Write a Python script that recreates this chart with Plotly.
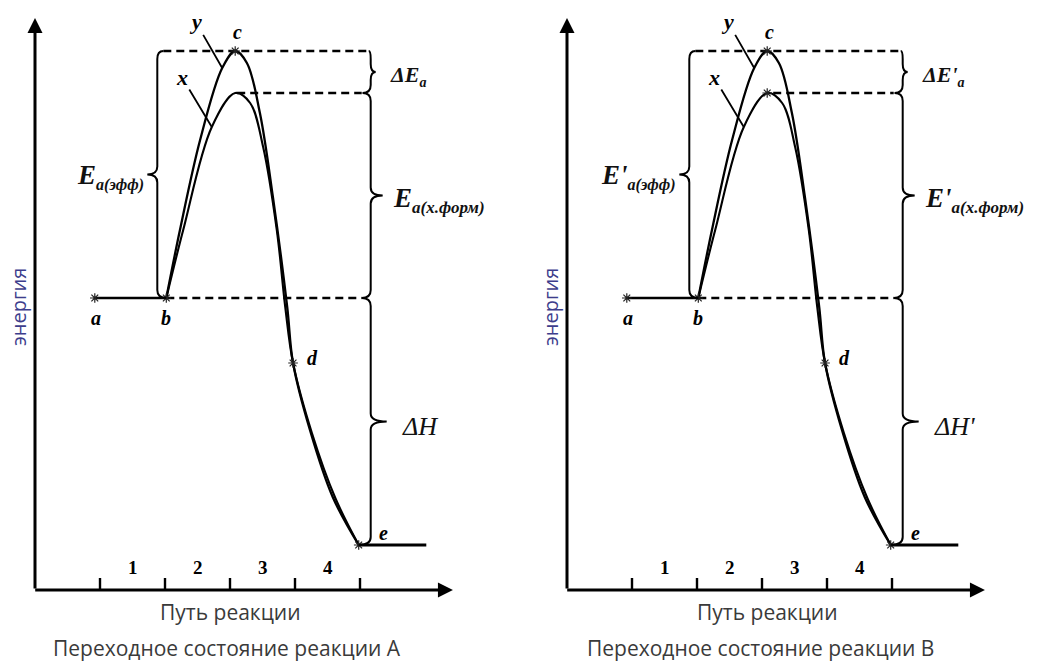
import plotly.graph_objects as go

# ---------------- data ----------------
# reaction-coordinate positions (tick units) of the marked points a..e
pt_names = ["a", "b", "c", "d", "e"]
pt_u = [0.92, 2.02, 3.08, 3.97, 4.98]
# energy levels (arbitrary units, x-axis = 0)
E_react = 58.4      # a, b
E_ts_eff = 107.8    # c (peak of curve y)
E_ts_x = 99.4       # peak of curve x
E_d = 45.4
E_prod = 9.0        # e
pt_E = [E_react, E_react, E_ts_eff, E_d, E_prod]

# curve y (higher barrier)
curve_y_u = [2.02, 2.23, 2.54, 2.88, 3.08, 3.26, 3.46, 3.66, 3.88, 3.97, 4.23, 4.58, 4.98]
curve_y_E = [58.4, 72.0, 90.0, 104.4, 107.8, 105.4, 95.4, 78.6, 56.6, 45.4, 32.0, 18.6, 9.0]
# curve x (lower barrier)
curve_x_u = [2.02, 2.28, 2.72, 3.08, 3.31, 3.51, 3.72, 3.85, 3.97, 4.26, 4.62, 4.98]
curve_x_E = [58.4, 72.0, 92.6, 99.4, 97.4, 88.6, 72.0, 56.6, 45.4, 31.4, 18.4, 9.0]

prod_line_end_u = 6.02
tick_u = [1, 2, 3, 4, 5]
tick_label_u = [1.5, 2.5, 3.5, 4.5]
tick_labels = ["1", "2", "3", "4"]
axis_u_max = 6.43
axis_E_max = 114.4

panel_labels = [
    dict(eff_main="E", eff_sub="a(эфф)", dEa_main="ΔE", dEa_sub="a",
         form_main="E", form_sub="a(х.форм)", dH="ΔH",
         title="Переходное состояние реакции А", xpeak_star=False),
    dict(eff_main="E'", eff_sub="a(эфф)", dEa_main="ΔE'", dEa_sub="a",
         form_main="E'", form_sub="a(х.форм)", dH="ΔH'",
         title="Переходное состояние реакции В", xpeak_star=True),
]
x_axis_title = "Путь реакции"
y_axis_title = "энергия"

# ---------------- layout geometry ----------------
W, H = 1039, 666
x_ranges = [[-0.5385, 7.4538], [-0.7308, 7.2615]]
domains = [[0, 0.5], [0.5, 1]]
y_range = [-15.2, 118.0]
px_u = (W * 0.5) / (x_ranges[0][1] - x_ranges[0][0])
px_E = H / (y_range[1] - y_range[0])

SERIF = "Liberation Serif"
SANS = "Open Sans"

fig = go.Figure()
shapes = []
annotations = []


def brace_path(x0, top, bot, side, tip_px, curl_top_px, curl_bot_px, r_px=8):
    du = 1.0 / px_u
    dE = 1.0 / px_E
    w = side * tip_px * du
    ct = -side * curl_top_px * du
    cb = -side * curl_bot_px * du
    r = min(r_px * dE, (top - bot) / 4.0)
    mid = (top + bot) / 2.0
    return (f"M{x0+ct},{top} Q{x0},{top} {x0},{top-r} L{x0},{mid+r} "
            f"Q{x0},{mid} {x0+w},{mid} Q{x0},{mid} {x0},{mid-r} "
            f"L{x0},{bot+r} Q{x0},{bot} {x0+cb},{bot}")


def sub_label(main, sub, main_size, sub_size):
    return (f"<b><i><span style='font-size:{main_size}px'>{main}</span>"
            f"<sub><span style='font-size:{sub_size}px'>{sub}</span></sub></i></b>")


for i, lab in enumerate(panel_labels):
    xa = "x" if i == 0 else "x2"
    ya = "y" if i == 0 else "y2"
    a_u, b_u, c_u, d_u, e_u = pt_u
    du = 1.0 / px_u

    # curves
    fig.add_trace(go.Scatter(x=curve_y_u, y=curve_y_E, mode="lines",
                             line=dict(color="#000", width=2.3, shape="spline", smoothing=1.0),
                             xaxis=xa, yaxis=ya, hoverinfo="skip", showlegend=False))
    fig.add_trace(go.Scatter(x=curve_x_u, y=curve_x_E, mode="lines",
                             line=dict(color="#000", width=2.1, shape="spline", smoothing=1.0),
                             xaxis=xa, yaxis=ya, hoverinfo="skip", showlegend=False))
    # reactant and product plateaus
    fig.add_trace(go.Scatter(x=[a_u, b_u], y=[E_react, E_react], mode="lines",
                             line=dict(color="#000", width=2.6),
                             xaxis=xa, yaxis=ya, hoverinfo="skip", showlegend=False))
    fig.add_trace(go.Scatter(x=[e_u, prod_line_end_u], y=[E_prod, E_prod], mode="lines",
                             line=dict(color="#000", width=3),
                             xaxis=xa, yaxis=ya, hoverinfo="skip", showlegend=False))

    # brace positions
    left_x0 = b_u - 9 * du
    right_x0 = e_u + 12 * du

    # dashed levels
    dash_levels = [E_ts_eff, E_ts_x, E_react]
    dash_start = [left_x0 + 6 * du, c_u + (2 + 4 * i) * du, b_u]
    dash_end = [right_x0 - 2 * du, right_x0 - 9 * du, right_x0 - 9 * du]
    for lv, s, e in zip(dash_levels, dash_start, dash_end):
        fig.add_trace(go.Scatter(x=[s, e], y=[lv, lv], mode="lines",
                                 line=dict(color="#000", width=2.6, dash="8px,5px"),
                                 xaxis=xa, yaxis=ya, hoverinfo="skip", showlegend=False))

    # star markers
    sx = list(pt_u)
    sy = list(pt_E)
    if lab["xpeak_star"]:
        sx.append(c_u)
        sy.append(E_ts_x)
    fig.add_trace(go.Scatter(x=sx, y=sy, mode="markers",
                             marker=dict(symbol="asterisk-open", size=8, color="#222",
                                         line=dict(color="#222", width=1.2)),
                             xaxis=xa, yaxis=ya, hoverinfo="skip", showlegend=False))

    # ticks
    for t in tick_u:
        fig.add_trace(go.Scatter(x=[t, t], y=[0, 2.4], mode="lines",
                                 line=dict(color="#000", width=2.4),
                                 xaxis=xa, yaxis=ya, hoverinfo="skip", showlegend=False))
    for t, s in zip(tick_label_u, tick_labels):
        annotations.append(dict(x=t, y=4.6, xref=xa, yref=ya, text=f"<b>{s}</b>",
                                showarrow=False, font=dict(family=SERIF, size=19, color="#000")))

    # axes with arrow heads
    annotations.append(dict(x=0, y=axis_E_max, ax=0, ay=0, xref=xa, yref=ya,
                            axref=xa, ayref=ya, showarrow=True, arrowhead=2, arrowsize=1,
                            arrowwidth=3, arrowcolor="#000", text=""))
    annotations.append(dict(x=axis_u_max, y=0, ax=-0.02, ay=0, xref=xa, yref=ya,
                            axref=xa, ayref=ya, showarrow=True, arrowhead=2, arrowsize=1,
                            arrowwidth=3, arrowcolor="#000", text=""))

    # braces
    braces = [
        (left_x0, E_ts_eff, E_react, -1, 10, 6, 9),
        (right_x0, E_ts_eff, E_ts_x, 1, 5, 2, 8),
        (right_x0, E_ts_x, E_react, 1, 12, 8, 9),
        (right_x0, E_react, E_prod, 1, 16, 9, 12),
    ]
    for x0, top, bot, side, tip, ct, cb in braces:
        shapes.append(dict(type="path", xref=xa, yref=ya,
                           path=brace_path(x0, top, bot, side, tip, ct, cb),
                           line=dict(color="#000", width=2)))

    # brace labels
    annotations.append(dict(x=left_x0 - 10 * du, y=(E_ts_eff + E_react) / 2, xref=xa, yref=ya,
                            text=sub_label(lab["eff_main"], lab["eff_sub"], 27, 16),
                            showarrow=False, xanchor="right", xshift=-1, yshift=-2,
                            font=dict(family=SERIF, size=27, color="#111")))
    annotations.append(dict(x=right_x0 + 5 * du, y=(E_ts_eff + E_ts_x) / 2, xref=xa, yref=ya,
                            text=sub_label(lab["dEa_main"], lab["dEa_sub"], 22, 14),
                            showarrow=False, xanchor="left", xshift=12, yshift=-4,
                            font=dict(family=SERIF, size=22, color="#111")))
    annotations.append(dict(x=right_x0 + 12 * du, y=(E_ts_x + E_react) / 2, xref=xa, yref=ya,
                            text=sub_label(lab["form_main"], lab["form_sub"], 27, 17),
                            showarrow=False, xanchor="left", xshift=8, yshift=-4,
                            font=dict(family=SERIF, size=27, color="#111")))
    annotations.append(dict(x=right_x0 + 16 * du, y=(E_react + E_prod) / 2, xref=xa, yref=ya,
                            text=f"<i>{lab['dH']}</i>", showarrow=False,
                            xanchor="left", xshift=13, yshift=-5,
                            font=dict(family=SERIF, size=26, color="#111")))

    # point labels
    offsets = {"a": (1, -20), "b": (0, -20), "c": (2, 19), "d": (19, 5), "e": (25, 12)}
    for n, u, E in zip(pt_names, pt_u, pt_E):
        dx, dy = offsets[n]
        annotations.append(dict(x=u, y=E, xref=xa, yref=ya, text=f"<b><i>{n}</i></b>",
                                showarrow=False, xshift=dx, yshift=dy,
                                font=dict(family=SERIF, size=20, color="#000")))
    # curve labels with leader lines
    annotations.append(dict(x=curve_x_u[2], y=curve_x_E[2], xref=xa, yref=ya,
                            text="<b><i>x</i></b>", showarrow=True, arrowhead=0,
                            arrowwidth=1.8, arrowcolor="#000", ax=-30, ay=-50, standoff=0,
                            font=dict(family=SERIF, size=22, color="#000")))
    annotations.append(dict(x=curve_y_u[3], y=curve_y_E[3], xref=xa, yref=ya,
                            text="<b><i>y</i></b>", showarrow=True, arrowhead=0,
                            arrowwidth=1.8, arrowcolor="#000", ax=-27, ay=-47, standoff=0,
                            font=dict(family=SERIF, size=22, color="#000")))

    # axis titles and panel caption
    annotations.append(dict(x=-0.26, y=56.6, xref=xa, yref=ya, text=y_axis_title,
                            showarrow=False, textangle=-90,
                            font=dict(family=SANS, size=20, color="#3d3d8c")))
    annotations.append(dict(x=3.0 + 0.08 * i, y=-4.4, xref=xa, yref=ya, text=x_axis_title,
                            showarrow=False, font=dict(family=SANS, size=21, color="#3a3a3a")))
    annotations.append(dict(x=2.95 + 0.02 * i, y=-11.6, xref=xa, yref=ya, text=lab["title"],
                            showarrow=False, font=dict(family=SANS, size=21, color="#3a3a3a")))

layout_axes = {}
for i in range(2):
    sfx = "" if i == 0 else "2"
    layout_axes[f"xaxis{sfx}"] = dict(domain=domains[i], range=x_ranges[i], visible=False,
                                     fixedrange=True)
    layout_axes[f"yaxis{sfx}"] = dict(domain=[0, 1], range=y_range, visible=False,
                                     fixedrange=True, anchor="x" + sfx)
layout_axes["xaxis2"]["anchor"] = "y2"

fig.update_layout(width=W, height=H, margin=dict(l=0, r=0, t=0, b=0),
                  paper_bgcolor="white", plot_bgcolor="white",
                  shapes=shapes, annotations=annotations, showlegend=False, **layout_axes)

fig.write_html("out.html", config={"displayModeBar": False, "staticPlot": True},
               post_script="document.body.style.margin='0';")
